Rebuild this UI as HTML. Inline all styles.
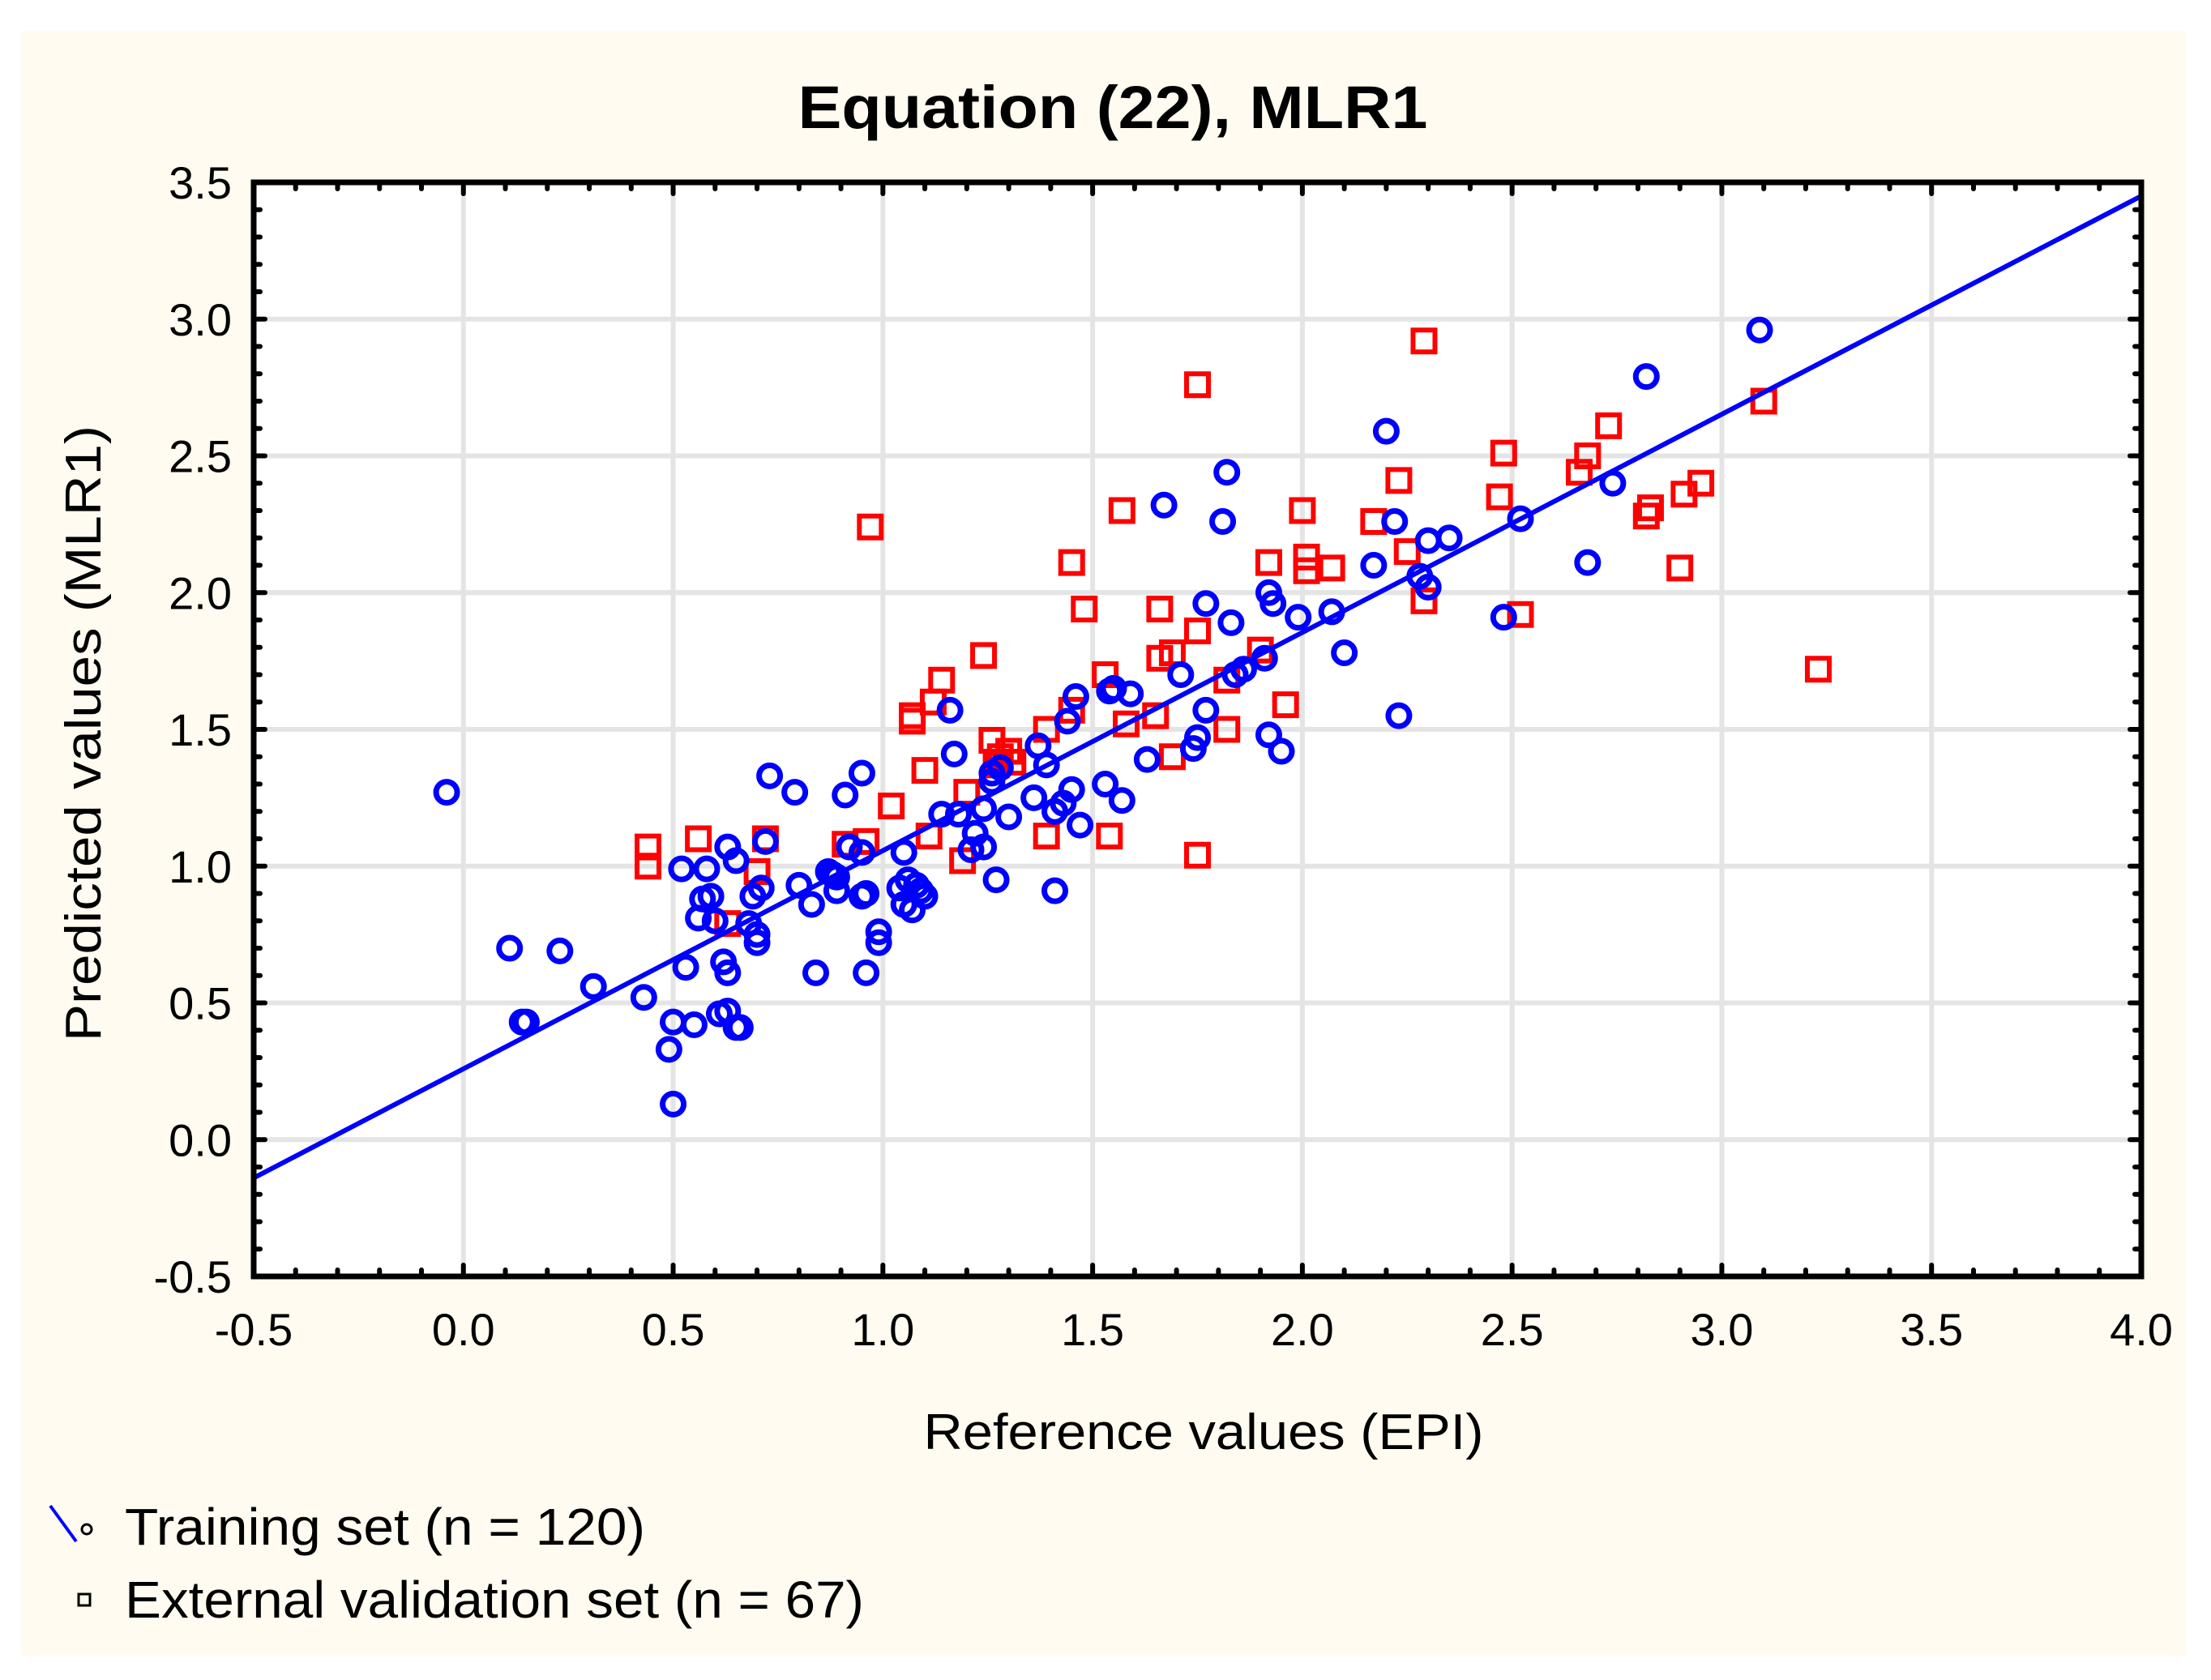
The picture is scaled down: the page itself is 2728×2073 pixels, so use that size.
<!DOCTYPE html>
<html><head><meta charset="utf-8"><style>
html,body{margin:0;padding:0;background:#fff;}
svg{display:block;}
text{font-family:"Liberation Sans",sans-serif;fill:#000;}
</style></head><body>
<svg id="chart" width="2728" height="2073" viewBox="0 0 2728 2073" xmlns="http://www.w3.org/2000/svg">
<rect x="26" y="38" width="2671" height="2005" fill="#fffbf0"/>
<rect x="313" y="225" width="2329" height="1350" fill="#fff"/>
<g id="grid"></g>
<g id="ticks"></g>
<g id="marks"></g>
<rect x="313" y="225" width="2329" height="1350" fill="none" stroke="#000" stroke-width="7"/>
<text x="1373" y="158" font-size="74" font-weight="bold" text-anchor="middle" textLength="777" lengthAdjust="spacingAndGlyphs">Equation (22), MLR1</text>
<text x="1485" y="1788" font-size="62" text-anchor="middle" textLength="691" lengthAdjust="spacingAndGlyphs">Reference values (EPI)</text>
<text transform="translate(124,905) rotate(-90)" font-size="62" text-anchor="middle" textLength="760" lengthAdjust="spacingAndGlyphs">Predicted values (MLR1)</text>
<g>
<line x1="62" y1="1858" x2="94" y2="1902" stroke="#0000ff" stroke-width="4"/>
<circle cx="107" cy="1887" r="6" fill="none" stroke="#000" stroke-width="3"/>
<text x="154" y="1906" font-size="64" textLength="642" lengthAdjust="spacingAndGlyphs">Training set (n = 120)</text>
<rect x="97" y="1967" width="14" height="14" fill="none" stroke="#000" stroke-width="3"/>
<text x="154" y="1996" font-size="64" textLength="912" lengthAdjust="spacingAndGlyphs">External validation set (n = 67)</text>
</g>
</svg>
<script>
const trainX=[-0.04,0.11,0.14,0.15,0.23,0.31,0.43,0.49,0.50,0.50,0.53,0.55,0.52,0.56,0.57,0.58,0.59,0.61,0.62,0.63,0.63,0.63,0.65,0.65,0.66,0.69,0.70,0.70,0.71,0.73,0.72,0.79,0.80,0.83,0.84,0.87,0.89,0.89,0.91,0.92,0.95,0.95,0.95,0.96,0.96,0.99,0.99,1.05,1.06,1.05,1.07,1.08,1.09,1.14,1.16,1.17,1.18,1.21,1.22,1.24,1.24,1.26,1.27,1.28,1.30,1.36,1.37,1.39,1.41,1.41,1.43,1.44,1.45,1.46,1.47,1.53,1.54,1.57,1.59,1.63,1.67,1.71,1.74,1.75,1.77,1.77,1.81,1.82,1.83,1.84,1.86,1.91,1.92,1.92,1.93,1.95,1.99,2.07,2.10,2.17,2.20,2.22,2.23,2.28,2.30,2.30,2.35,2.48,2.52,2.68,2.74,2.82,3.09,0.60,0.88,1.04,1.26,1.55,0.68,1.10];
const trainY=[1.27,0.70,0.43,0.43,0.69,0.56,0.52,0.33,0.13,0.43,0.63,0.42,0.99,0.81,0.88,0.99,0.89,0.46,0.65,1.07,0.61,0.47,1.02,0.41,0.41,0.89,0.72,0.75,0.92,1.33,1.09,1.27,0.93,0.86,0.61,0.98,0.91,0.96,1.26,1.07,1.34,0.89,1.05,0.90,0.61,0.76,0.72,1.05,0.95,0.86,0.84,0.93,0.91,1.19,1.57,1.41,1.19,1.06,1.12,1.07,1.21,1.31,0.95,1.36,1.18,1.25,1.44,1.37,0.91,1.20,1.23,1.53,1.28,1.62,1.15,1.30,1.64,1.24,1.63,1.39,2.32,1.70,1.43,1.47,1.96,1.57,2.26,2.44,1.89,1.70,1.72,1.76,2.00,1.48,1.96,1.42,1.91,1.93,1.78,2.10,2.59,2.26,1.55,2.06,2.02,2.19,2.20,1.91,2.27,2.11,2.40,2.79,2.96,0.80,0.97,0.92,1.34,1.65,0.79,0.89];
const valX=[0.44,0.44,0.56,0.63,0.70,0.72,0.91,0.96,0.97,1.02,1.07,1.07,1.10,1.11,1.12,1.14,1.19,1.20,1.24,1.26,1.27,1.28,1.30,1.31,1.39,1.39,1.45,1.45,1.48,1.53,1.54,1.57,1.58,1.65,1.66,1.66,1.69,1.69,1.75,1.75,1.75,1.82,1.82,1.90,1.92,1.96,2.00,2.01,2.01,2.07,2.17,2.23,2.25,2.29,2.29,2.47,2.48,2.52,2.66,2.68,2.73,2.82,2.83,2.90,2.91,2.95,3.10,3.23];
const valY=[1.07,1.00,1.10,0.79,0.98,1.10,1.08,1.09,2.24,1.22,1.53,1.55,1.35,1.11,1.60,1.68,1.02,1.27,1.77,1.46,1.37,1.40,1.42,1.38,1.50,1.11,1.57,2.11,1.94,1.70,1.11,2.30,1.52,1.55,1.76,1.94,1.78,1.40,2.76,1.86,1.04,1.68,1.50,1.79,2.11,1.59,2.30,2.13,2.08,2.09,2.26,2.41,2.15,1.97,2.92,2.35,2.51,1.92,2.44,2.50,2.61,2.28,2.31,2.09,2.36,2.40,2.70,1.72];
const fitLine=[[-0.5,-0.14],[4.0,3.45]];
const xTicks=["-0.5","0.0","0.5","1.0","1.5","2.0","2.5","3.0","3.5","4.0"];
const yTicks=["-0.5","0.0","0.5","1.0","1.5","2.0","2.5","3.0","3.5"];

const NS="http://www.w3.org/2000/svg";
const L=313,R=2642,T=225,B=1575,X0=-0.5,X1=4.0,Y0=-0.5,Y1=3.5;
const sx=v=>L+(v-X0)/(X1-X0)*(R-L);
const sy=v=>B-(v-Y0)/(Y1-Y0)*(B-T);
function mk(tag,parent,attrs){const e=document.createElementNS(NS,tag);for(const k in attrs)e.setAttribute(k,attrs[k]);parent.appendChild(e);return e;}
const grid=document.getElementById('grid'),ticks=document.getElementById('ticks'),marks=document.getElementById('marks');
xTicks.forEach((t,i)=>{const v=parseFloat(t);const x=sx(v);
  if(i>0&&i<xTicks.length-1){const g=mk('line',grid,{x1:x,y1:T,x2:x,y2:B,stroke:'#e4e4e4','stroke-width':6});
  
  }
  const tx=mk('text',ticks,{x:x,y:B+85,'font-size':56,'text-anchor':'middle'});tx.textContent=t;
  
  
});
yTicks.forEach((t,i)=>{const v=parseFloat(t);const y=sy(v);
  if(i>0&&i<yTicks.length-1){const g=mk('line',grid,{x1:L,y1:y,x2:R,y2:y,stroke:'#e4e4e4','stroke-width':6});
  
  }
  const tx=mk('text',ticks,{x:L-27,y:y+20,'font-size':56,'text-anchor':'end'});tx.textContent=t;
  
  
});
for(let k=0;k<=45;k++){const v=X0+k*0.1;const x=sx(v);const len=(k%5===0)?14:8;
  mk('line',ticks,{x1:x,y1:B,x2:x,y2:B-len,stroke:'#000','stroke-width':6,'stroke-linecap':'round'});
  mk('line',ticks,{x1:x,y1:T,x2:x,y2:T+len,stroke:'#000','stroke-width':6,'stroke-linecap':'round'});}
for(let k=0;k<=40;k++){const v=Y0+k*0.1;const y=sy(v);const len=(k%5===0)?14:8;
  mk('line',ticks,{x1:L,y1:y,x2:L+len,y2:y,stroke:'#000','stroke-width':6,'stroke-linecap':'round'});
  mk('line',ticks,{x1:R,y1:y,x2:R-len,y2:y,stroke:'#000','stroke-width':6,'stroke-linecap':'round'});}
valX.forEach((v,i)=>{const x=sx(v),y=sy(valY[i]);
  const r=mk('rect',marks,{x:x-13.5,y:y-13.5,width:27,height:27,fill:'none',stroke:'#ff0000','stroke-width':6});
  
  
});
trainX.forEach((v,i)=>{const x=sx(v),y=sy(trainY[i]);
  const c=mk('circle',marks,{cx:x,cy:y,r:13,fill:'none',stroke:'#0000ff','stroke-width':7});
  
  
});
const ln=mk('line',marks,{x1:sx(fitLine[0][0]),y1:sy(fitLine[0][1]),x2:sx(fitLine[1][0]),y2:sy(fitLine[1][1]),stroke:'#0000ff','stroke-width':6});


</script>
</body></html>
